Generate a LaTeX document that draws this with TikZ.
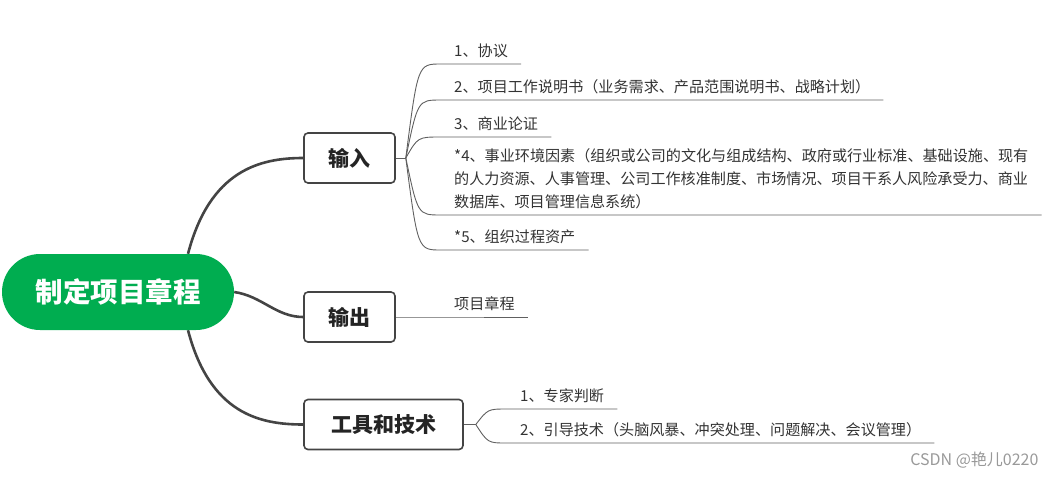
\documentclass[tikz,border=0pt]{standalone}
\usepackage{fontspec}
\newfontfamily\cjk{Noto Sans CJK SC}
\usetikzlibrary{backgrounds,calc}
\definecolor{chartGreen}{RGB}{0,173,80}
\definecolor{chartLine}{RGB}{68,68,68}
\definecolor{chartThin}{RGB}{96,96,96}
\definecolor{chartText}{RGB}{51,51,51}

\begin{document}
\begin{tikzpicture}[x=1pt, y=-1pt,
    root/.style={rectangle, rounded corners=38pt, fill=chartGreen, minimum width=232pt,
                 minimum height=76pt, text=white, font=\cjk\bfseries\fontsize{27.5}{32}\selectfont},
    topic/.style={rectangle, rounded corners=4pt, draw=chartLine, fill=white, line width=1.6pt,
                  minimum width=91pt, minimum height=50pt, text=chartText!70!black,
                  font=\cjk\bfseries\fontsize{21}{25}\selectfont},
    leaf/.style={anchor=south west, inner xsep=13pt, inner ysep=6pt, align=left,
                 text=chartText, font=\cjk\fontsize{15.1}{23}\selectfont},
    main/.style={chartLine, line width=2.6pt},
    twig/.style={chartThin, line width=0.9pt}
  ]
  \useasboundingbox (0,0) rectangle (1056,477);

  % Central topic and main branches
  \node[root] (root) at (118,292) {制定项目章程};
  \node[topic] (in)    at (349.5,158) {输入};
  \node[topic] (out)   at (349.5,317) {输出};
  \node[topic, minimum width=159pt] (tools) at (383.5,424.5) {工具和技术};

  \begin{scope}[on background layer]
    \draw[main] ($(root.north)+(70,0)$) .. controls (210,170) and (260,158) .. (in.west);
    \draw[main] (root.east) .. controls (262,296) and (276,317) .. (out.west);
    \draw[main] ($(root.south)+(70,0)$) .. controls (210,414) and (260,424.5) .. (tools.west);
  \end{scope}

  % Inputs
  \node[leaf] (in1) at (441,64)  {1、协议};
  \node[leaf] (in2) at (441,100) {2、项目工作说明书（业务需求、产品范围说明书、战略计划）};
  \node[leaf] (in3) at (441,137) {3、商业论证};
  \node[leaf] (in4) at (441,215) {*4、事业环境因素（组织或公司的文化与组成结构、政府或行业标准、基础设施、现有\\
    的人力资源、人事管理、公司工作核准制度、市场情况、项目干系人风险承受力、商业\\
    数据库、项目管理信息系统）};
  \node[leaf] (in5) at (441,250) {*5、组织过程资产};

  \coordinate (inbr) at ($(in.east)+(10,0)$);
  \draw[twig] (in.east) -- (inbr);
  \foreach \n in {1,...,5} {
    \path (inbr |- in\n.south west) coordinate (ink\n);
    \draw[twig] (inbr) .. controls ([xshift=12pt]ink\n) .. (in\n.south west) -- (in\n.south east);
  }

  % Outputs
  \node[leaf] (out1) at (441,317) {项目章程};
  \draw[twig] (out.east) -- (out1.south west) -- (out1.south east);

  % Tools and techniques
  \node[leaf] (tools1) at (507,409) {1、专家判断};
  \node[leaf] (tools2) at (507,443) {2、引导技术（头脑风暴、冲突处理、问题解决、会议管理）};

  \coordinate (toolsbr) at ($(tools.east)+(12,0)$);
  \draw[twig] (tools.east) -- (toolsbr);
  \foreach \n in {1,2} {
    \path (toolsbr |- tools\n.south west) coordinate (toolsk\n);
    \draw[twig] (toolsbr) .. controls ([xshift=12pt]toolsk\n) .. (tools\n.south west) -- (tools\n.south east);
  }

  \node[anchor=east, text=gray!80, font=\cjk\fontsize{16}{18}\selectfont] (mark) at (1042,460) {CSDN @艳儿0220};
\end{tikzpicture}
\end{document}
